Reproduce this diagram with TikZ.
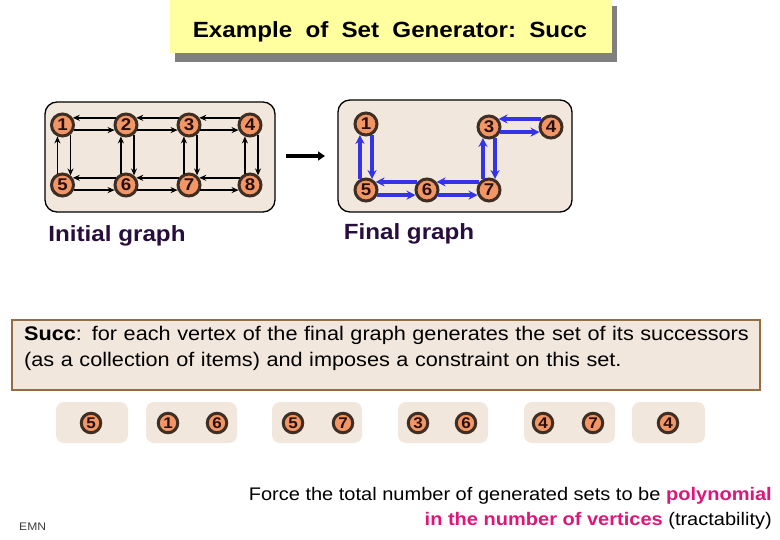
\documentclass[tikz,border=0pt]{standalone}
\usepackage{fontspec}
\setmainfont[FakeStretch=1.1]{Liberation Sans}
\usetikzlibrary{arrows.meta}
\definecolor{beige}{RGB}{242,231,220}
\definecolor{vorange}{RGB}{243,150,102}
\definecolor{vborder}{RGB}{62,46,36}
\definecolor{vtext}{RGB}{40,16,16}
\definecolor{titleyellow}{RGB}{255,255,160}
\definecolor{shadowgray}{RGB}{128,128,128}
\definecolor{boxbrown}{RGB}{150,108,66}
\definecolor{edgeblue}{RGB}{52,52,230}
\definecolor{hotpink}{RGB}{222,22,122}
\definecolor{labelpurple}{RGB}{40,14,60}
\definecolor{emngray}{RGB}{60,60,60}
\begin{document}
\begin{tikzpicture}[x=1pt,y=-1pt,
  vtx/.style={circle, draw=vborder, line width=3pt, fill=vorange, minimum size=22pt, inner sep=0pt,
    font=\fontsize{17}{17}\selectfont\bfseries, text=vtext},
  svtx/.style={vtx, minimum size=19.5pt, font=\fontsize{15.5}{15.5}\selectfont\bfseries},
  gbox/.style={rectangle, rounded corners=12pt, draw=black, line width=1.3pt, fill=beige, inner sep=0pt},
  sbox/.style={rectangle, rounded corners=8pt, fill=beige, inner sep=0pt, minimum height=41pt},
  arr/.style={-{Stealth[length=7pt,width=6pt]}, line width=1.4pt, black},
  barr/.style={-{Stealth[length=9pt,width=9pt]}, line width=3.2pt, edgeblue},
  glabel/.style={font=\fontsize{22}{22}\selectfont\bfseries, text=labelpurple, inner sep=0pt}
]
\useasboundingbox (0,0) rectangle (780,540);

% title
\fill[shadowgray] (175,6) rectangle (617,62);
\node[rectangle, fill=titleyellow, minimum width=442pt, minimum height=53pt, inner sep=0pt] (title) at (391,26.5) {};
\node[inner sep=0pt, font=\fontsize{22}{22}\selectfont\bfseries] (titletext) at (390,32)
  {Example\hspace{0.6em}of\hspace{0.6em}Set\hspace{0.6em}Generator:\hspace{0.6em}Succ};

% initial graph
\node[gbox, minimum width=230pt, minimum height=110pt] (ibox) at (160,157) {};
\node[vtx] (i1) at (62.5,125) {1};
\node[vtx] (i2) at (126,125) {2};
\node[vtx] (i3) at (189,125) {3};
\node[vtx] (i4) at (250,125) {4};
\node[vtx] (i5) at (62.5,185) {5};
\node[vtx] (i6) at (126,185) {6};
\node[vtx] (i7) at (189,185) {7};
\node[vtx] (i8) at (250,185) {8};
\foreach \a/\b in {i1/i2,i2/i3,i3/i4,i5/i6,i6/i7,i7/i8}{
  \draw[arr] (\b.145) -- (\a.35);
  \draw[arr] (\a.-24) -- (\b.-156);
}
\foreach \a/\b in {i1/i5,i2/i6,i3/i7,i4/i8}{
  \draw[arr] (\a.-50) -- (\b.50);
  \draw[arr] (\b.114) -- (\a.-114);
}
\node[glabel] (ilabel) at (117,236) {Initial graph};

% transition arrow
\coordinate (ta) at (286,156);
\coordinate (tb) at (325,156);
\draw[line width=3.5pt, -{Triangle[length=7pt,width=9pt]}] (ta) -- (tb);

% final graph
\node[gbox, minimum width=234pt, minimum height=112pt] (fbox) at (455,156) {};
\node[vtx] (f1) at (366,124) {1};
\node[vtx] (f3) at (489,127) {3};
\node[vtx] (f4) at (551,127) {4};
\node[vtx] (f5) at (366,190) {5};
\node[vtx] (f6) at (427,190) {6};
\node[vtx] (f7) at (489,190) {7};
\draw[barr] (f1.-61) -- (f5.61);
\draw[barr] (f5.119) -- (f1.-119);
\draw[barr] (f6.140) -- (f5.40);
\draw[barr] (f5.-24) -- (f6.-156);
\draw[barr] (f7.140) -- (f6.40);
\draw[barr] (f6.-24) -- (f7.-156);
\draw[barr] (f7.119) -- (f3.-119);
\draw[barr] (f3.-61) -- (f7.61);
\draw[barr] (f4.140) -- (f3.40);
\draw[barr] (f3.-24) -- (f4.-156);
\node[glabel] (flabel) at (409,234) {Final graph};

% description box
\node[rectangle, draw=boxbrown, line width=2pt, fill=beige, minimum width=748pt, minimum height=70pt,
  inner sep=0pt] (desc) at (386,355) {};
\node[anchor=west, inner sep=0pt, text width=740pt, align=left,
  font=\fontsize{19.7}{26}\selectfont] (desctext) at (24,348)
  {\textbf{Succ}: for each vertex of the final graph generates the set of its successors\\
   (as a collection of items) and imposes a constraint on this set.};

% sets
\node[sbox, minimum width=72pt] (s1) at (92,422.5) {};
\node[sbox, minimum width=91pt] (s2) at (191.5,422.5) {};
\node[sbox, minimum width=90pt] (s3) at (317,422.5) {};
\node[sbox, minimum width=90pt] (s4) at (443,422.5) {};
\node[sbox, minimum width=91pt] (s5) at (569.5,422.5) {};
\node[sbox, minimum width=73pt] (s6) at (668.5,422.5) {};
\node[svtx] (a1) at (91,423) {5};
\node[svtx] (a2) at (168,423) {1};
\node[svtx] (a3) at (217,423) {6};
\node[svtx] (a4) at (293,423) {5};
\node[svtx] (a5) at (343,423) {7};
\node[svtx] (a6) at (418,423) {3};
\node[svtx] (a7) at (466,423) {6};
\node[svtx] (a8) at (543,423) {4};
\node[svtx] (a9) at (593,423) {7};
\node[svtx] (a10) at (668,423) {4};

% bottom note
\node[anchor=east, align=right, inner sep=0pt, font=\fontsize{18.2}{25}\selectfont] (note) at (772,508)
  {Force the total number of generated sets to be \textbf{\color{hotpink}polynomial}\\
   {\bfseries\color{hotpink}in the number of vertices} (tractability)};
\node[anchor=west, inner sep=0pt, font=\fontsize{11}{11}\selectfont, text=emngray] (emn) at (19,527) {EMN};
\end{tikzpicture}
\end{document}
